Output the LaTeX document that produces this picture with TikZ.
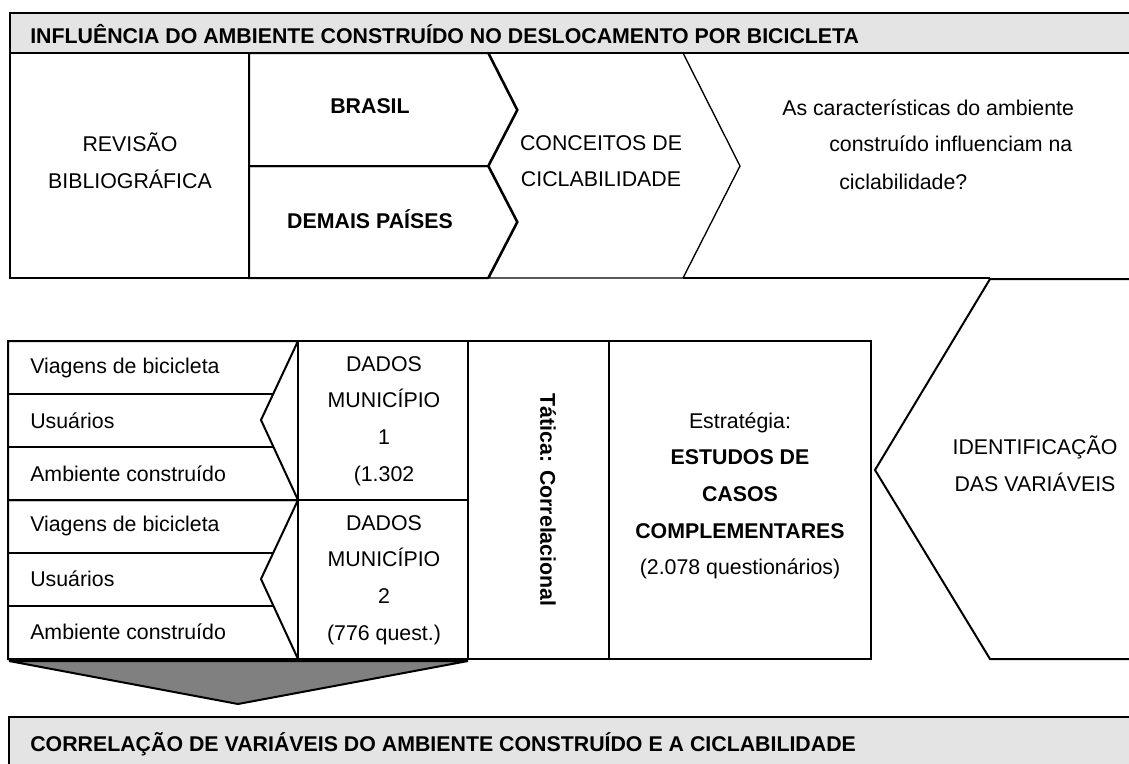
\documentclass[tikz,border=0pt]{standalone}
\usepackage{fontspec}
\setmainfont{Liberation Sans}
\usetikzlibrary{positioning}
\pgfdeclarelayer{background}
\pgfsetlayers{background,main}
\definecolor{headgray}{RGB}{228,228,228}
\definecolor{arrowgray}{RGB}{128,128,128}

\begin{document}
\begin{tikzpicture}[x=0.75pt,y=-0.75pt,
	txtnode/.style={font=\fontsize{16}{27.5}\selectfont, align=center, inner sep=0pt},
	boldnode/.style={txtnode, font=\fontsize{16}{27.5}\selectfont\bfseries},
	thickline/.style={draw=black, line width=1.5pt, line join=miter},
	thinline/.style={draw=black, line width=1pt, line join=miter},
	]
	\useasboundingbox (0,0) rectangle (1129,764);
	%Nodes
	\node[boldnode, anchor=base west]   (titulo)    at (30,43)    {INFLUÊNCIA DO AMBIENTE CONSTRUÍDO NO DESLOCAMENTO POR BICICLETA};
	\node[txtnode]      (revisao)   at (130,161)    {REVISÃO\\BIBLIOGRÁFICA};
	\node[boldnode]     (brasil)    at (370,106)    {BRASIL};
	\node[boldnode]     (demais)    at (370,219)    {DEMAIS PAÍSES};
	\node[txtnode]      (conceitos) at (601,161)    {CONCEITOS DE\\CICLABILIDADE};
	\node[txtnode, anchor=base west]    (perg1)     at (782,115)    {As características do ambiente};
	\node[txtnode, anchor=base west]    (perg2)     at (829,151)    {construído influenciam na};
	\node[txtnode, anchor=base west]    (perg3)     at (839,189)    {ciclabilidade?};
	\node[txtnode, anchor=base west]    (viagens1)  at (30,373)     {Viagens de bicicleta};
	\node[txtnode, anchor=base west]    (usuarios1) at (30,428)     {Usuários};
	\node[txtnode, anchor=base west]    (ambiente1) at (30,481)     {Ambiente construído};
	\node[txtnode, anchor=base west]    (viagens2)  at (30,531)     {Viagens de bicicleta};
	\node[txtnode, anchor=base west]    (usuarios2) at (30,586)     {Usuários};
	\node[txtnode, anchor=base west]    (ambiente2) at (30,639)     {Ambiente construído};
	\node[txtnode]      (dados1)    at (384,421)    {DADOS\\MUNICÍPIO\\1\\(1.302};
	\node[txtnode]      (dados2)    at (384,580)    {DADOS\\MUNICÍPIO\\2\\(776 quest.)};
	\node[boldnode, rotate=-90] (tatica) at (548,500) {Tática: Correlacional};
	\node[txtnode]      (estrategia) at (740,496)   {Estratégia:\\\textbf{ESTUDOS DE}\\\textbf{CASOS}\\\textbf{COMPLEMENTARES}\\(2.078 questionários)};
	\node[txtnode]      (identif)   at (1035,464)   {IDENTIFICAÇÃO\\DAS VARIÁVEIS};
	\node[boldnode, anchor=base west]   (correlacao) at (30,751)  {CORRELAÇÃO DE VARIÁVEIS DO AMBIENTE CONSTRUÍDO E A CICLABILIDADE};

	\begin{pgfonlayer}{background}
	%Lines
	\draw[thickline, fill=headgray] (10,13) rectangle (1140,53);
	\draw[thickline] (10,53) rectangle (249,278);
	\draw[thickline] (249,53) -- (488,53) -- (517,110) -- (488,166) -- (249,166) -- cycle;
	\draw[thickline] (249,166) -- (488,166) -- (517,222) -- (488,278) -- (249,278) -- cycle;
	\draw[thinline] (489,53) -- (683,53) -- (740,166) -- (683,278) -- (489,278) -- (518,222) -- (489,166) -- (518,110) -- cycle;
	\draw[thinline] (683,278) -- (990,278);
	\draw[thickline] (1140,279) -- (990,279) -- (875,470) -- (990,659) -- (1140,659);
	\foreach \dy in {0,159}{
		\draw[thickline] (8,341+\dy) -- (298,341+\dy) -- (261,420+\dy) -- (298,500+\dy) -- (8,500+\dy) -- cycle;
		\draw[thickline] (8,394+\dy) -- (274,394+\dy);
		\draw[thickline] (8,447+\dy) -- (274,447+\dy);
		\draw[thickline] (298,341+\dy) rectangle (468,500+\dy);
	}
	\draw[thickline] (468,341) rectangle (609,659);
	\draw[thickline] (609,341) rectangle (871,659);
	\draw[thickline, fill=arrowgray] (9,661) -- (468,661) -- (238,704) -- cycle;
	\draw[thickline, fill=headgray] (9,780) -- (9,717) -- (1140,717) -- (1140,780);
	\end{pgfonlayer}
\end{tikzpicture}
\end{document}
